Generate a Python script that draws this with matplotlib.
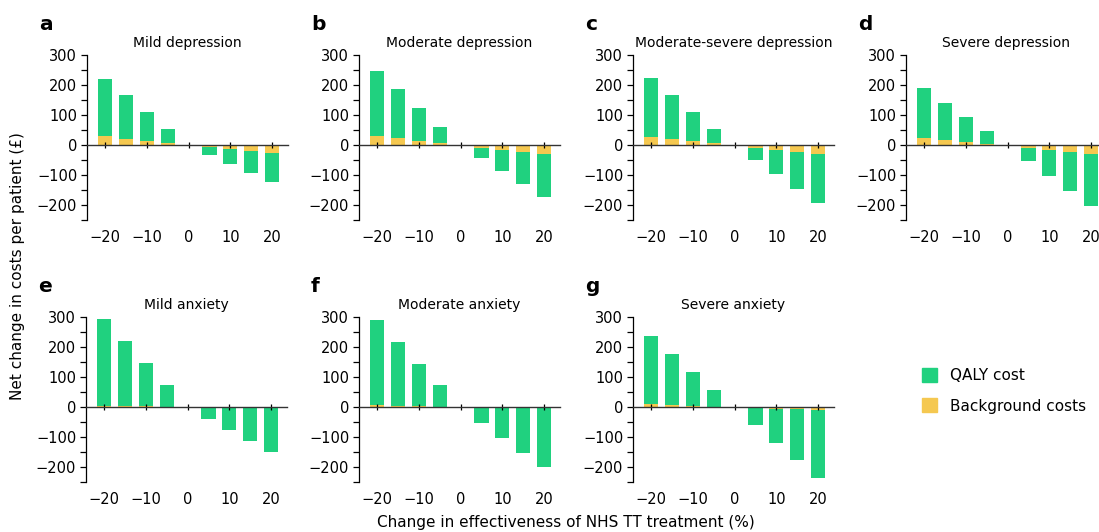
import matplotlib.pyplot as plt
from matplotlib.patches import Patch
import numpy as np

changes = [-20, -15, -10, -5, 5, 10, 15, 20]
titles = ["Mild depression", "Moderate depression", "Moderate-severe depression",
          "Severe depression", "Mild anxiety", "Moderate anxiety", "Severe anxiety"]
letters = ["a", "b", "c", "d", "e", "f", "g"]

# net total per bar (background + QALY) and background part, in £
totals = [
    [221, 166, 109, 54, -32, -63, -94, -124],
    [248, 186, 123, 61, -44, -88, -130, -173],
    [222, 166, 109, 54, -50, -97, -146, -193],
    [189, 141, 93, 46, -52, -102, -153, -203],
    [293, 220, 147, 73, -40, -77, -113, -150],
    [290, 217, 143, 73, -53, -103, -153, -200],
    [236, 176, 116, 56, -60, -119, -178, -236],
]
background = [
    [30, 21, 13, 6, -7, -14, -21, -28],
    [30, 22, 14, 6, -9, -17, -23, -31],
    [26, 19, 12, 6, -10, -17, -23, -30],
    [22, 16, 10, 4, -10, -17, -24, -31],
    [4, 4, 2, 1, -1, -2, -2, -3],
    [8, 4, 2, 1, -1, -2, -3, -3],
    [9, 7, 4, 1, -3, -6, -8, -11],
]
xticks = [-20, -10, 0, 10, 20]

green = "#20d17f"
yellow = "#f5c850"

W, H = 1099, 532
fig = plt.figure(figsize=(W / 100, H / 100), dpi=100)

lefts = [87, 359, 633, 906, 86, 359, 633]
tops = [55, 55, 55, 55, 317, 317, 317]
ax_w, ax_h = 201, 165

for i in range(7):
    ax = fig.add_axes([lefts[i] / W, 1 - (tops[i] + ax_h) / H, ax_w / W, ax_h / H])
    x = np.array(changes)
    bg = np.array(background[i])
    qaly = np.array(totals[i]) - bg
    ax.bar(x, bg, width=3.4, color=yellow, zorder=1)
    ax.bar(x, qaly, width=3.4, bottom=bg, color=green, zorder=1)

    ax.set_xlim(-24.3, 23.8)
    ax.set_ylim(-250, 300)
    ax.set_yticks([-200, -100, 0, 100, 200, 300])
    ax.set_yticks(np.arange(-250, 301, 50), minor=True)
    ax.tick_params(axis='y', labelsize=10.5, length=4, width=0.9, pad=3)
    ax.tick_params(axis='y', which='minor', length=4, width=0.9)

    for s in ['top', 'right']:
        ax.spines[s].set_visible(False)
    ax.spines['left'].set_linewidth(0.9)
    ax.spines['bottom'].set_position(('data', 0))
    ax.spines['bottom'].set_color('#333333')
    ax.spines['bottom'].set_linewidth(1.0)
    ax.spines['bottom'].set_zorder(3)
    ax.set_xticks(xticks)
    ax.tick_params(axis='x', direction='inout', length=4, width=0.9,
                   labelbottom=False)

    sec = ax.secondary_xaxis(0.0)
    sec.set_xticks(xticks)
    sec.set_xticklabels([str(t).replace('-', '\u2212') for t in xticks])
    sec.tick_params(length=0, labelsize=10.5, pad=7)
    sec.spines['bottom'].set_visible(False)

    ax.set_title(titles[i], fontsize=10, pad=6)
    fig.text((lefts[i] - 48) / W, 1 - (tops[i] - 30) / H, letters[i],
             fontsize=14.5, fontweight='bold', va='center', ha='left')

fig.text(18 / W, 0.5, "Net change in costs per patient (\u00a3)", rotation=90,
         fontsize=11, va='center', ha='center')
fig.text(566 / W, 1 - 522 / H, "Change in effectiveness of NHS TT treatment (%)",
         fontsize=11, va='center', ha='center')

handles = [Patch(color=green, label="QALY cost"),
           Patch(color=yellow, label="Background costs")]
fig.legend(handles=handles, loc='upper left', bbox_to_anchor=(916 / W, 1 - 362 / H),
           frameon=False, fontsize=11, handlelength=1.0, handleheight=1.0,
           labelspacing=1.0, handletextpad=0.8, borderaxespad=0)

fig.savefig("out.png", dpi=100)
